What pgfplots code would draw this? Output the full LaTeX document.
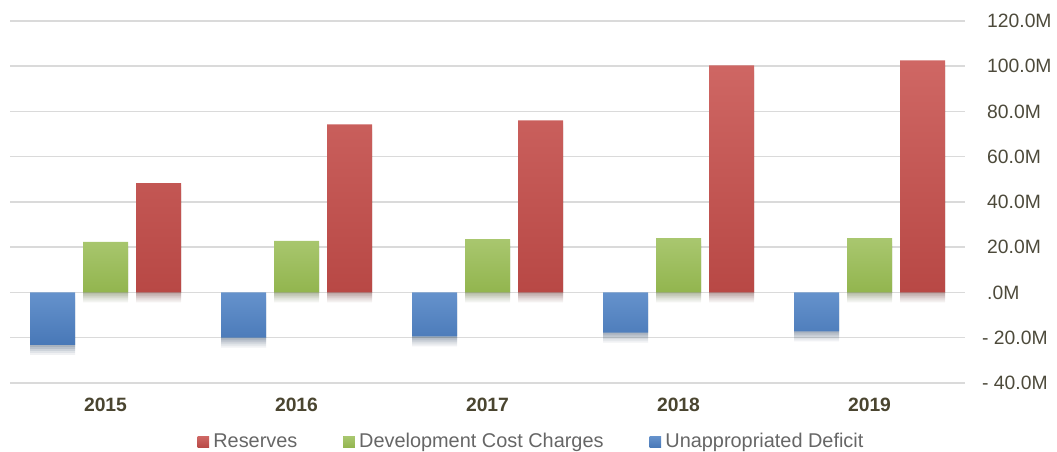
\documentclass[border=0pt]{standalone}
\usepackage{pgfplots}
\pgfplotsset{compat=1.18}
\usepackage{fontspec}
\setmainfont{Liberation Sans}
\definecolor{redT}{HTML}{CF6764}
\definecolor{redB}{HTML}{B84845}
\definecolor{grnT}{HTML}{A9C76F}
\definecolor{grnB}{HTML}{92B54E}
\definecolor{bluT}{HTML}{6592CC}
\definecolor{bluB}{HTML}{4878B7}
\definecolor{redL}{HTML}{C0504D}
\definecolor{grnL}{HTML}{9BBB59}
\definecolor{bluL}{HTML}{4F81BD}
\definecolor{gridc}{HTML}{DADADA}
\definecolor{tickc}{HTML}{4D4A3B}
\definecolor{yearc}{HTML}{4A4530}
\definecolor{legc}{HTML}{666666}
\makeatletter
\tikzset{nopre/.code={\let\tikz@preactions\pgfutil@empty}}
\makeatother
\tikzset{
  shadowed/.style={
    preaction={fill=black, fill opacity=0.035, transform canvas={yshift=-10pt}},
    preaction={fill=black, fill opacity=0.04, transform canvas={yshift=-8pt}},
    preaction={fill=black, fill opacity=0.05, transform canvas={yshift=-6pt}},
    preaction={fill=black, fill opacity=0.06, transform canvas={yshift=-4pt}},
    preaction={fill=black, fill opacity=0.06, transform canvas={yshift=-2pt}}
  }
}
\begin{document}
\fontsize{19.3}{23}\selectfont
\begin{tikzpicture}
\begin{axis}[
  at={(0pt,0pt)}, anchor=south west,
  scale only axis, width=955pt, height=362pt,
  xmin=-0.5, xmax=4.5, ymin=-40, ymax=120,
  ybar=8pt, bar width=45pt,
  axis line style={draw=none},
  major tick length=0pt,
  xtick={0,1,2,3,4},
  xticklabels={2015,2016,2017,2018,2019},
  ytick={-40,-20,0,20,40,60,80,100,120},
  yticklabels={\hspace*{-5pt}- 40.0M,\hspace*{-5pt}- 20.0M,.0M,20.0M,40.0M,60.0M,80.0M,100.0M,120.0M},
  yticklabel pos=right,
  ymajorgrids,
  grid style={line width=1.5pt, color=gridc},
  yticklabel style={anchor=west, inner sep=0pt, xshift=22pt, text=tickc, font=\fontsize{19.3}{23}\selectfont},
  xticklabel style={anchor=north, inner sep=0pt, yshift=-15pt, text=yearc, font=\fontsize{19.3}{23}\selectfont\bfseries},
  legend columns=-1,
  reverse legend,
  legend style={at={(0.545,0)}, anchor=center, yshift=-59pt, draw=none, fill=none,
    font=\fontsize{19.9}{23}\selectfont, text=legc,
    nodes={inner sep=0pt},
    /tikz/every odd column/.append style={column sep=4.3pt},
    /tikz/every even column/.append style={column sep=46pt}},
]
\addplot[draw=none, top color=bluT, bottom color=bluB, shadowed,
  legend image code/.code={\fill[nopre, bluL] (0pt,-5.75pt) rectangle (11.5pt,5.75pt);}]
  coordinates {(0,-23.2) (1,-19.9) (2,-19.4) (3,-17.7) (4,-17.2)};
\addlegendentry{Unappropriated Deficit}
\addplot[draw=none, top color=grnT, bottom color=grnB, shadowed,
  legend image code/.code={\fill[nopre, grnL] (0pt,-5.75pt) rectangle (11.5pt,5.75pt);}]
  coordinates {(0,22.4) (1,22.8) (2,23.6) (3,24.0) (4,24.0)};
\addlegendentry{Development Cost Charges}
\addplot[draw=none, top color=redT, bottom color=redB, shadowed,
  legend image code/.code={\fill[nopre, redL] (0pt,-5.75pt) rectangle (11.5pt,5.75pt);}]
  coordinates {(0,48.3) (1,74.3) (2,76.1) (3,100.4) (4,102.6)};
\addlegendentry{Reserves}
\end{axis}
\pgfresetboundingbox
\path[use as bounding box] (-10pt,-69pt) rectangle (1047pt,383pt);
\end{tikzpicture}
\end{document}
